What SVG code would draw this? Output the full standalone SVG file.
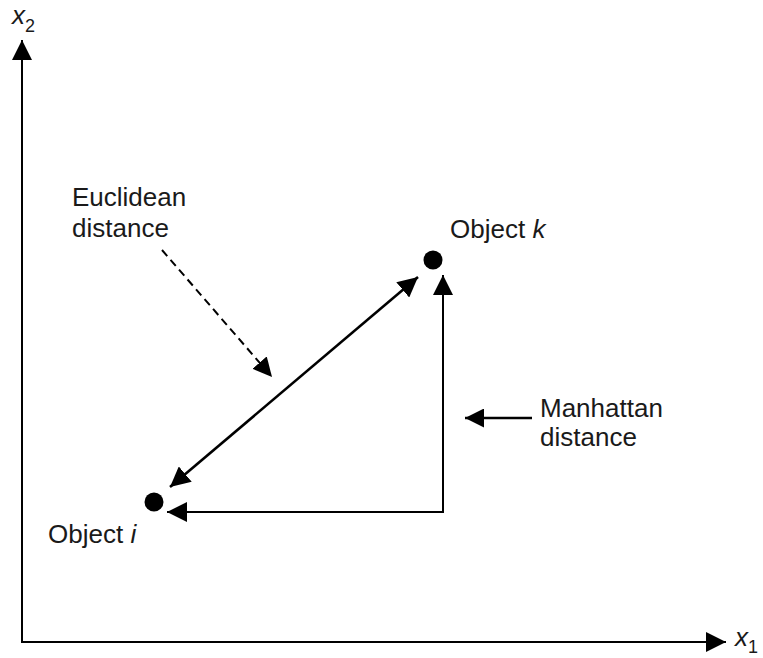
<svg xmlns="http://www.w3.org/2000/svg" width="763" height="658" viewBox="0 0 763 658">
  <style>
    text { font-family: "Liberation Sans", Arial, sans-serif; font-size: 26px; fill: #1a1a1a; }
    .it { font-style: italic; }
    .sub { font-size: 18px; }
    .ln { stroke: #000; fill: none; }
  </style>
  <defs>
    <marker id="head" viewBox="0 0 20 20" refX="20" refY="10" markerWidth="20" markerHeight="20" markerUnits="userSpaceOnUse" orient="auto-start-reverse">
      <path d="M0,0 L20,10 L0,20 z" fill="#000"/>
    </marker>
    <marker id="headS" viewBox="0 0 20 20" refX="20" refY="10" markerWidth="19" markerHeight="19" markerUnits="userSpaceOnUse" orient="auto">
      <path d="M0,0 L20,10 L0,20 z" fill="#000"/>
    </marker>
  </defs>

  <!-- axes -->
  <g id="axes">
    <path class="ln" stroke-width="2" d="M22,642 L22,40" marker-end="url(#head)"/>
    <path class="ln" stroke-width="2" d="M21,642 L726,642" marker-end="url(#head)"/>
    <text x="12" y="24" class="it">x<tspan class="sub" font-style="normal" dy="8">2</tspan></text>
    <text x="735" y="646" class="it">x<tspan class="sub" font-style="normal" dy="7">1</tspan></text>
  </g>

  <!-- objects -->
  <g id="object-k">
    <circle cx="433" cy="260" r="9.5" fill="#000"/>
    <text x="450" y="238">Object <tspan class="it">k</tspan></text>
  </g>
  <g id="object-i">
    <circle cx="154" cy="502" r="9.5" fill="#000"/>
    <text x="48" y="543">Object <tspan class="it">i</tspan></text>
  </g>

  <!-- labels -->
  <g id="euclidean-label">
    <text x="72" y="206">Euclidean</text>
    <text x="72" y="237">distance</text>
  </g>
  <g id="manhattan-label">
    <text x="540" y="417">Manhattan</text>
    <text x="540" y="446">distance</text>
  </g>

  <!-- connectors -->
  <g id="connectors">
    <!-- Euclidean: straight double-headed line -->
    <path class="ln" stroke-width="2.6" d="M170,487 L418,277" marker-start="url(#head)" marker-end="url(#head)"/>
    <!-- Manhattan: vertical then horizontal legs -->
    <path class="ln" stroke-width="2" d="M443,513 L443,275" marker-end="url(#head)"/>
    <path class="ln" stroke-width="2" d="M444,512 L167,512" marker-end="url(#head)"/>
    <!-- label pointers -->
    <path class="ln" stroke-width="2" stroke-dasharray="8,5" d="M162,250 L272,377" marker-end="url(#headS)"/>
    <path class="ln" stroke-width="2.4" d="M532,418 L465,418" marker-end="url(#headS)"/>
  </g>
</svg>
